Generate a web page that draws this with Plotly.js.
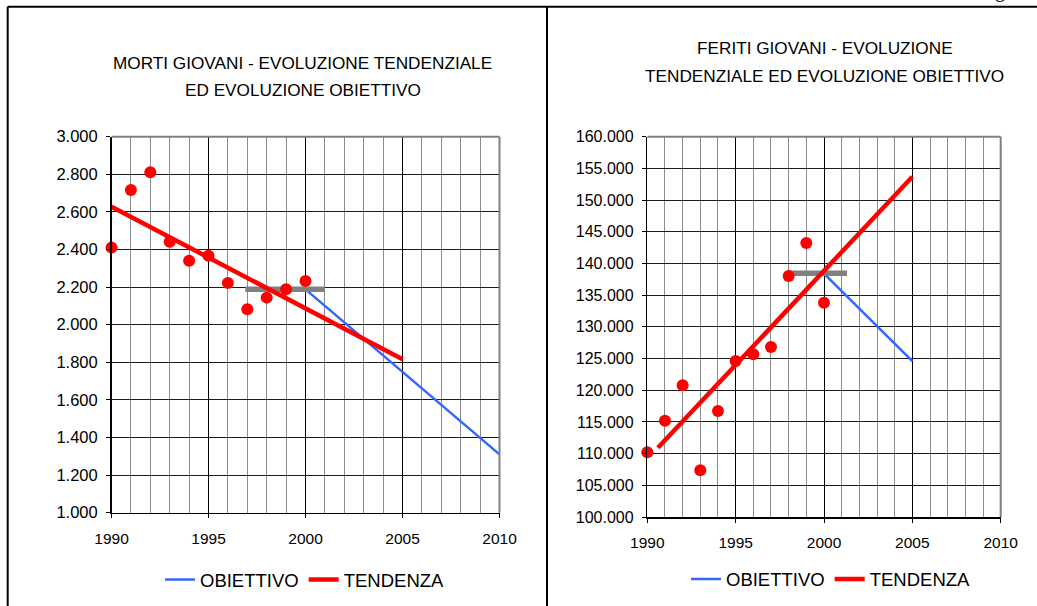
<!DOCTYPE html>
<html>
<head>
<meta charset="utf-8">
<script src="https://cdn.plot.ly/plotly-3.0.1.min.js"></script>
<style>html,body{margin:0;padding:0;background:#fff;}#chart{width:1037px;height:606px;}</style>
</head>
<body>
<div id="chart"></div>
<script>
// ---- data ----
const years = [1990, 1991, 1992, 1993, 1994, 1995, 1996, 1997, 1998, 1999, 2000];
const morti = [2410, 2716, 2811, 2441, 2340, 2367, 2222, 2082, 2144, 2188, 2232];
const feriti = [110200, 115190, 120770, 107370, 116720, 124600, 125660, 126810, 138010, 143220, 133800];

const mortiTrendX = [1990, 2005];
const mortiTrendY = [2628, 1816];
const mortiObjX = [2000, 2010];
const mortiObjY = [2188, 1310];
const mortiBarX = [1996.9, 2001];
const mortiBarY = [2188, 2188];

const feritiTrendX = [1990.6, 2005];
const feritiTrendY = [110930, 153680];
const feritiObjX = [2000, 2005];
const feritiObjY = [138400, 124600];
const feritiBarX = [1997.9, 2001.3];
const feritiBarY = [138440, 138440];

const titleLeft = ['MORTI GIOVANI - EVOLUZIONE TENDENZIALE', 'ED EVOLUZIONE OBIETTIVO'];
const titleRight = ['FERITI GIOVANI - EVOLUZIONE', 'TENDENZIALE ED EVOLUZIONE OBIETTIVO'];
const nameObj = 'OBIETTIVO';
const nameTrend = 'TENDENZA';

// ---- styles ----
const RED = '#ff0000', BLUE = '#3366ff', GREY = '#808080';
const FONT = 'Liberation Sans, Arial, sans-serif';

function panel(xa, ya, legendId, x, pts, objX, objY, barX, barY, trX, trY) {
  return [
    {x: objX, y: objY, xaxis: xa, yaxis: ya, mode: 'lines', name: nameObj, legend: legendId,
     line: {color: BLUE, width: 2.5}, hoverinfo: 'skip'},
    {x: barX, y: barY, xaxis: xa, yaxis: ya, mode: 'lines', showlegend: false,
     line: {color: GREY, width: 5.5}, hoverinfo: 'skip'},
    {x: trX, y: trY, xaxis: xa, yaxis: ya, mode: 'lines', name: nameTrend, legend: legendId,
     line: {color: RED, width: 4.5}, hoverinfo: 'skip'},
    {x: x, y: pts, xaxis: xa, yaxis: ya, mode: 'markers', showlegend: false, cliponaxis: false,
     marker: {color: RED, size: 12}, hoverinfo: 'skip'}
  ];
}

const data = [].concat(
  panel('x', 'y', 'legend', years, morti, mortiObjX, mortiObjY, mortiBarX, mortiBarY, mortiTrendX, mortiTrendY),
  panel('x2', 'y2', 'legend2', years, feriti, feritiObjX, feritiObjY, feritiBarX, feritiBarY, feritiTrendX, feritiTrendY)
);

function xAxis(domain, anchor) {
  return {
    domain: domain, anchor: anchor, range: [1990, 2010], tick0: 1990, dtick: 5, tickformat: 'd',
    showgrid: true, gridcolor: '#000', gridwidth: 1,
    minor: {dtick: 1, showgrid: true, gridcolor: '#8c8c8c', gridwidth: 1},
    showline: true, linecolor: '#000', linewidth: 1.5,
    ticks: 'outside', ticklen: 4, tickcolor: '#000', tickwidth: 1,
    ticklabelstandoff: 7,
    tickfont: {family: FONT, size: 15.5, color: '#000'},
    zeroline: false, fixedrange: true
  };
}
function yAxis(domain, anchor, range, dtick, fs) {
  return {
    domain: domain, anchor: anchor, range: range, dtick: dtick, tickformat: ',',
    showgrid: true, gridcolor: '#1a1a1a', gridwidth: 1,
    showline: true, linecolor: '#000', linewidth: 1.5,
    ticks: 'outside', ticklen: 4, tickcolor: '#000', tickwidth: 1,
    ticklabelstandoff: 5,
    tickfont: {family: FONT, size: fs, color: '#000'},
    zeroline: false, fixedrange: true
  };
}

function edge(xref, yref, x0, y0, x1, y1, color, w) {
  return {type: 'line', xref: xref, yref: yref, x0: x0, y0: y0, x1: x1, y1: y1,
          line: {color: color, width: w}, layer: 'above'};
}

const W = 1037, H = 606;
const px = v => v / W, py = v => 1 - v / H;

function titleLine(text, cx, cy) {
  return {text: text, xref: 'paper', yref: 'paper', x: px(cx), y: py(cy), xanchor: 'center', yanchor: 'middle',
          showarrow: false, font: {family: FONT, size: 17.2, color: '#000'}};
}

const layout = {
  width: W, height: H,
  margin: {l: 0, r: 0, t: 0, b: 0, pad: 0},
  paper_bgcolor: '#fff', plot_bgcolor: '#fff',
  separators: ',.',
  font: {family: FONT, color: '#000'},
  xaxis: xAxis([px(111.5), px(499.5)], 'y'),
  yaxis: yAxis([py(512.7), py(136.7)], 'x', [1000, 3000], 200, 16.5),
  xaxis2: xAxis([px(647.3), px(1000.7)], 'y2'),
  yaxis2: yAxis([py(517), py(136.7)], 'x2', [100000, 160000], 5000, 16),
  legend: {orientation: 'h', x: px(305), xanchor: 'center', y: py(580), yanchor: 'middle',
           font: {family: FONT, size: 18.5, color: '#000'}, bgcolor: 'rgba(0,0,0,0)', itemwidth: 30},
  legend2: {orientation: 'h', x: px(831), xanchor: 'center', y: py(579.5), yanchor: 'middle',
           font: {family: FONT, size: 18.5, color: '#000'}, bgcolor: 'rgba(0,0,0,0)', itemwidth: 30},
  annotations: [
    titleLine(titleLeft[0], 302.5, 63),
    titleLine(titleLeft[1], 302.5, 90),
    titleLine(titleRight[0], 824.5, 48),
    titleLine(titleRight[1], 824.5, 76),
    {text: 'g', xref: 'paper', yref: 'paper', x: px(1000), y: py(4), xanchor: 'center', yanchor: 'bottom',
     showarrow: false, font: {family: 'Liberation Serif, serif', size: 20, color: '#000'}}
  ],
  shapes: [
    edge('paper', 'paper', px(7.7), py(6.7), 1, py(6.7), '#000', 2),
    edge('paper', 'paper', px(7.7), py(6.7), px(7.7), 0, '#000', 2),
    edge('paper', 'paper', px(547), py(6.7), px(547), 0, '#000', 2),
    edge('x domain', 'y domain', 0, 1, 1, 1, GREY, 2),
    edge('x domain', 'y domain', 1, 0, 1, 1, GREY, 2),
    edge('x2 domain', 'y2 domain', 0, 1, 1, 1, GREY, 2),
    edge('x2 domain', 'y2 domain', 1, 0, 1, 1, GREY, 2)
  ]
};

Plotly.newPlot('chart', data, layout, {staticPlot: true, displayModeBar: false});
</script>
</body>
</html>
